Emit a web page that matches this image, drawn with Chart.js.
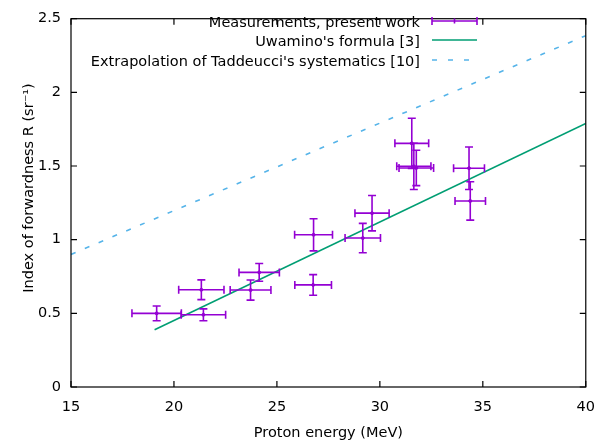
<!DOCTYPE html>
<html>
<head>
<meta charset="utf-8">
<script src="https://cdn.jsdelivr.net/npm/chart.js@4.4.1/dist/chart.umd.min.js"></script>
<style>
  html, body { margin: 0; padding: 0; background: #fff; }
  #wrap { width: 607px; height: 448px; }
</style>
</head>
<body>
<div id="wrap"><canvas id="chart" width="607" height="448"></canvas></div>
<script>
// measurements, present work
const energy = [19.16, 21.43, 21.33, 23.72, 24.14, 26.76, 26.78, 29.17, 29.62, 31.55, 31.65, 31.77, 34.33, 34.39];
const energyErr = [1.2, 1.08, 1.1, 0.99, 0.98, 0.89, 0.92, 0.86, 0.83, 0.82, 0.83, 0.84, 0.75, 0.74];
const forwardness = [0.50, 0.49, 0.66, 0.658, 0.778, 0.693, 1.033, 1.011, 1.18, 1.654, 1.498, 1.487, 1.485, 1.263];
const forwardnessErr = [0.05, 0.04, 0.067, 0.068, 0.06, 0.07, 0.109, 0.1, 0.12, 0.17, 0.157, 0.12, 0.144, 0.13];

// Uwamino's formula
const uwaminoE = [19.06, 40];
const uwaminoR = [0.388, 1.789];

// Taddeucci's systematics (extrapolation)
const taddE = [15, 40];
const taddR = [0.90, 2.385];

const xTicks = [15, 20, 25, 30, 35, 40];
const yTicks = [0, 0.5, 1, 1.5, 2, 2.5];

const purple = "#9400d3";
const green = "#009e73";
const blue = "#56b4e9";
const fontFamily = "'DejaVu Sans', Verdana, sans-serif";
const fontSize = 14.5;

function toPoints(xs, ys) {
  return xs.map((x, i) => ({ x: x, y: ys[i] }));
}

// error bars for the measurement dataset
const errorBars = {
  id: "errorBars",
  afterDatasetsDraw(chart) {
    const ctx = chart.ctx;
    const xs = chart.scales.x, ys = chart.scales.y;
    const cap = 4;
    ctx.save();
    ctx.strokeStyle = purple;
    ctx.lineWidth = 1.6;
    energy.forEach((e, i) => {
      const r = forwardness[i];
      const px = xs.getPixelForValue(e);
      const py = ys.getPixelForValue(r);
      const x1 = xs.getPixelForValue(e - energyErr[i]);
      const x2 = xs.getPixelForValue(e + energyErr[i]);
      const y1 = ys.getPixelForValue(r - forwardnessErr[i]);
      const y2 = ys.getPixelForValue(r + forwardnessErr[i]);
      ctx.beginPath();
      ctx.moveTo(x1, py); ctx.lineTo(x2, py);
      ctx.moveTo(x1, py - cap); ctx.lineTo(x1, py + cap);
      ctx.moveTo(x2, py - cap); ctx.lineTo(x2, py + cap);
      ctx.moveTo(px, y1); ctx.lineTo(px, y2);
      ctx.moveTo(px - cap, y1); ctx.lineTo(px + cap, y1);
      ctx.moveTo(px - cap, y2); ctx.lineTo(px + cap, y2);
      ctx.stroke();
    });
    ctx.restore();
  }
};

// gnuplot style frame with inward ticks on all sides, axis titles, legend
const frame = {
  id: "frame",
  afterDraw(chart) {
    const ctx = chart.ctx;
    const a = chart.chartArea;
    const xs = chart.scales.x, ys = chart.scales.y;
    const tl = 6;
    ctx.save();
    ctx.strokeStyle = "#000";
    ctx.lineWidth = 1.2;
    ctx.strokeRect(a.left, a.top, a.right - a.left, a.bottom - a.top);
    ctx.beginPath();
    xTicks.forEach(v => {
      const p = xs.getPixelForValue(v);
      ctx.moveTo(p, a.bottom); ctx.lineTo(p, a.bottom - tl);
      ctx.moveTo(p, a.top); ctx.lineTo(p, a.top + tl);
    });
    yTicks.forEach(v => {
      const p = ys.getPixelForValue(v);
      ctx.moveTo(a.left, p); ctx.lineTo(a.left + tl, p);
      ctx.moveTo(a.right, p); ctx.lineTo(a.right - tl, p);
    });
    ctx.stroke();

    ctx.fillStyle = "#000";
    ctx.font = fontSize + "px " + fontFamily;
    ctx.textAlign = "center";
    ctx.textBaseline = "middle";
    ctx.fillText("Proton energy (MeV)", (a.left + a.right) / 2, 433);

    ctx.save();
    ctx.translate(29, 188);
    ctx.rotate(-Math.PI / 2);
    ctx.fillText("Index of forwardness R (sr\u207B\u00B9)", 0, 0);
    ctx.restore();

    // legend
    const rows = [
      { label: "Measurements, present work", y: 23 },
      { label: "Uwamino's formula [3]", y: 42 },
      { label: "Extrapolation of Taddeucci's systematics [10]", y: 62 }
    ];
    const tx = 420, s1 = 432, s2 = 477;
    ctx.textAlign = "right";
    rows.forEach(r => ctx.fillText(r.label, tx, r.y));

    ctx.lineWidth = 1.6;
    ctx.strokeStyle = purple;
    ctx.beginPath();
    ctx.moveTo(s1, 21); ctx.lineTo(s2, 21);
    ctx.moveTo(s1, 17); ctx.lineTo(s1, 25);
    ctx.moveTo(s2, 17); ctx.lineTo(s2, 25);
    ctx.moveTo((s1 + s2) / 2, 18.5); ctx.lineTo((s1 + s2) / 2, 23.5);
    ctx.stroke();

    ctx.strokeStyle = green;
    ctx.beginPath();
    ctx.moveTo(s1, 40); ctx.lineTo(s2, 40);
    ctx.stroke();

    ctx.strokeStyle = blue;
    ctx.setLineDash([5, 11]);
    ctx.beginPath();
    ctx.moveTo(s1, 60); ctx.lineTo(s2, 60);
    ctx.stroke();
    ctx.restore();
  }
};

document.addEventListener("DOMContentLoaded", function () {
  const ctx = document.getElementById("chart").getContext("2d");
  new Chart(ctx, {
    type: "scatter",
    data: {
      datasets: [
        {
          label: "Measurements, present work",
          data: toPoints(energy, forwardness),
          pointRadius: 1.5,
          pointBackgroundColor: purple,
          pointBorderColor: purple,
          showLine: false
        },
        {
          label: "Uwamino's formula [3]",
          data: toPoints(uwaminoE, uwaminoR),
          showLine: true,
          borderColor: green,
          borderWidth: 1.6,
          pointRadius: 0
        },
        {
          label: "Extrapolation of Taddeucci's systematics [10]",
          data: toPoints(taddE, taddR),
          showLine: true,
          borderColor: blue,
          borderWidth: 1.6,
          borderDash: [5, 10],
          pointRadius: 0
        }
      ]
    },
    options: {
      responsive: false,
      animation: false,
      layout: { padding: { top: 11, right: 19, left: 0, bottom: 0 } },
      plugins: {
        legend: { display: false },
        tooltip: { enabled: false }
      },
      scales: {
        x: {
          type: "linear",
          min: 15,
          max: 40,
          afterBuildTicks: s => { s.ticks = xTicks.map(v => ({ value: v })); },
          afterFit: s => { s.height = 61; },
          grid: { display: false, drawTicks: false },
          border: { display: false },
          ticks: { color: "#000", padding: 12, font: { size: fontSize, family: fontFamily } }
        },
        y: {
          type: "linear",
          min: 0,
          max: 2.5,
          afterBuildTicks: s => { s.ticks = yTicks.map(v => ({ value: v })); },
          afterFit: s => { s.width = 71; },
          grid: { display: false, drawTicks: false },
          border: { display: false },
          ticks: {
            color: "#000",
            padding: 10,
            font: { size: fontSize, family: fontFamily },
            callback: v => String(v)
          }
        }
      }
    },
    plugins: [errorBars, frame]
  });
});
</script>
</body>
</html>
